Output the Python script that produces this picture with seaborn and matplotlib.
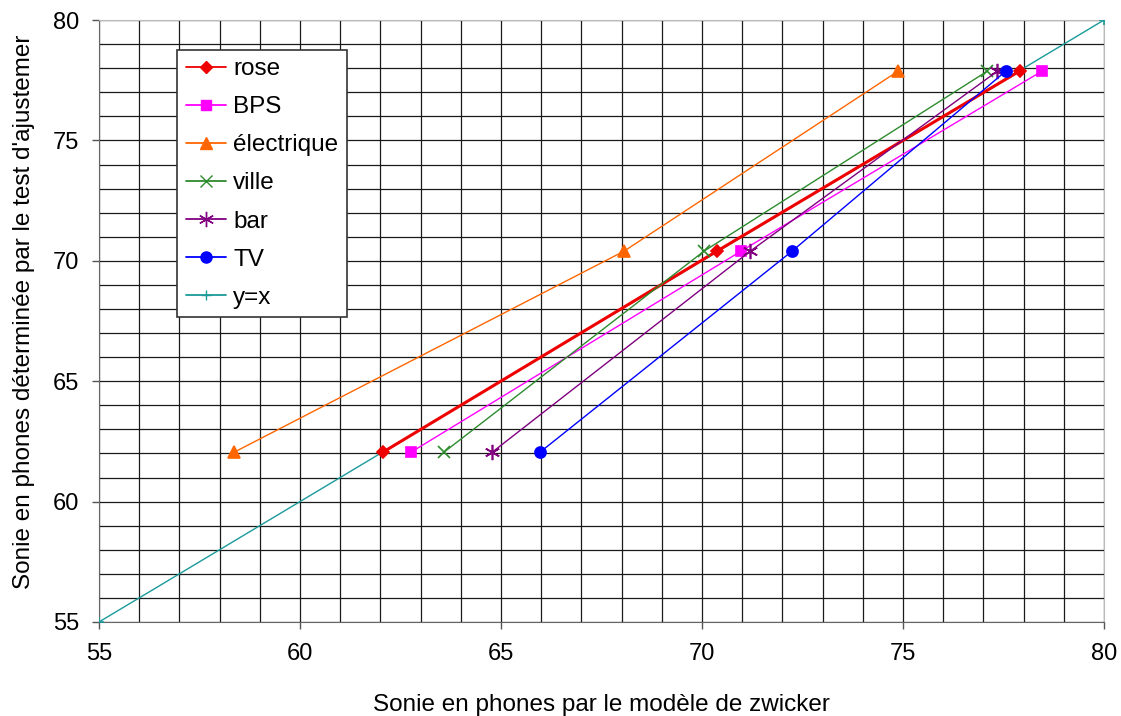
import numpy as np
import pandas as pd
import seaborn as sns
import matplotlib
matplotlib.use("Agg")
import matplotlib.pyplot as plt
from matplotlib.ticker import MultipleLocator
from matplotlib.lines import Line2D

# test values (y) shared by every series
test_phones = [62.05, 70.4, 77.88]

series_names = ['rose', 'BPS', 'électrique', 'ville', 'bar', 'TV']
rose = [62.06, 70.37, 77.9]
bps = [62.76, 70.97, 78.46]
electrique = [58.36, 68.06, 74.88]
ville = [63.58, 70.05, 77.1]
bar = [64.78, 71.2, 77.35]
tv = [65.97, 72.24, 77.56]
identity = [55, 80]

colors = {'rose': '#ee0000', 'BPS': '#ff00ff', 'électrique': '#ff6600',
          'ville': '#2e8b2e', 'bar': '#800080', 'TV': '#0000ff', 'y=x': '#1a9a9a'}
markers = {'rose': 'D', 'BPS': 's', 'électrique': '^', 'ville': 'x',
           'bar': (6, 2, 0), 'TV': 'o', 'y=x': '+'}
msizes = {'rose': 6, 'BPS': 6.5, 'électrique': 9, 'ville': 9,
          'bar': 11, 'TV': 8, 'y=x': 7}
lwidths = {'rose': 2.2, 'BPS': 1.0, 'électrique': 1.0, 'ville': 1.0,
           'bar': 1.0, 'TV': 1.0, 'y=x': 1.0}

rows = []
for name, xs in zip(series_names, [rose, bps, electrique, ville, bar, tv]):
    for x, y in zip(xs, test_phones):
        rows.append({'serie': name, 'modele': x, 'test': y})
for v in identity:
    rows.append({'serie': 'y=x', 'modele': v, 'test': v})
df = pd.DataFrame(rows)

sns.set_style("white")
plt.rcParams['font.family'] = ['Liberation Sans', 'DejaVu Sans']
plt.rcParams['text.color'] = 'black'
plt.rcParams['axes.labelcolor'] = 'black'

fig = plt.figure(figsize=(11.21, 7.16), dpi=100)
ax = fig.add_axes([0.0883, 0.1313, 0.8965, 0.8407])

# y=x first, behind the data
order = ['y=x'] + series_names
for name in order:
    sub = df[df.serie == name]
    sns.lineplot(data=sub, x='modele', y='test', ax=ax, sort=False,
                 color=colors[name], linewidth=lwidths[name],
                 marker=markers[name], markersize=msizes[name],
                 markeredgecolor=colors[name], markeredgewidth=1.2,
                 estimator=None, zorder=3)

ax.set_xlim(55, 80)
ax.set_ylim(55, 80)
ax.xaxis.set_major_locator(MultipleLocator(5))
ax.yaxis.set_major_locator(MultipleLocator(5))
ax.xaxis.set_minor_locator(MultipleLocator(1))
ax.yaxis.set_minor_locator(MultipleLocator(1))
ax.grid(which='both', color='#1a1a1a', linewidth=0.9, zorder=0)
ax.set_axisbelow(True)
ax.tick_params(which='major', direction='out', length=5, width=1,
               color='#555555', labelsize=17, labelcolor='black', pad=9,
               bottom=True, left=True)
ax.tick_params(axis='x', which='major', pad=10)
ax.tick_params(which='minor', length=0)

for side in ['left', 'bottom']:
    ax.spines[side].set_color('#666666')
for side in ['top', 'right']:
    ax.spines[side].set_color('#bbbbbb')

ax.set_xlabel('Sonie en phones par le modèle de zwicker', fontsize=17.5, color='black')
ax.set_ylabel("Sonie en phones déterminée par le test d'ajustemer", fontsize=17.5, color='black')
ax.xaxis.set_label_coords(0.5, -0.12)
ax.yaxis.set_label_coords(-0.064, 0.515)

handles = [Line2D([], [], color=colors[n], linewidth=1.3, marker=markers[n],
                  markersize=msizes[n], markeredgecolor=colors[n])
           for n in series_names + ['y=x']]
leg = ax.legend(handles, series_names + ['y=x'], loc='upper left',
                bbox_to_anchor=(0.0776, 0.951), fontsize=17.5, frameon=True,
                fancybox=False, edgecolor='#333333', framealpha=1,
                handlelength=1.65, labelspacing=0.66, borderpad=0.36,
                handletextpad=0.3, borderaxespad=0)
leg.get_frame().set_linewidth(1.2)
leg.set_zorder(5)
for t in leg.get_texts():
    t.set_color('black')

fig.savefig('out.png', dpi=100, facecolor='white')
